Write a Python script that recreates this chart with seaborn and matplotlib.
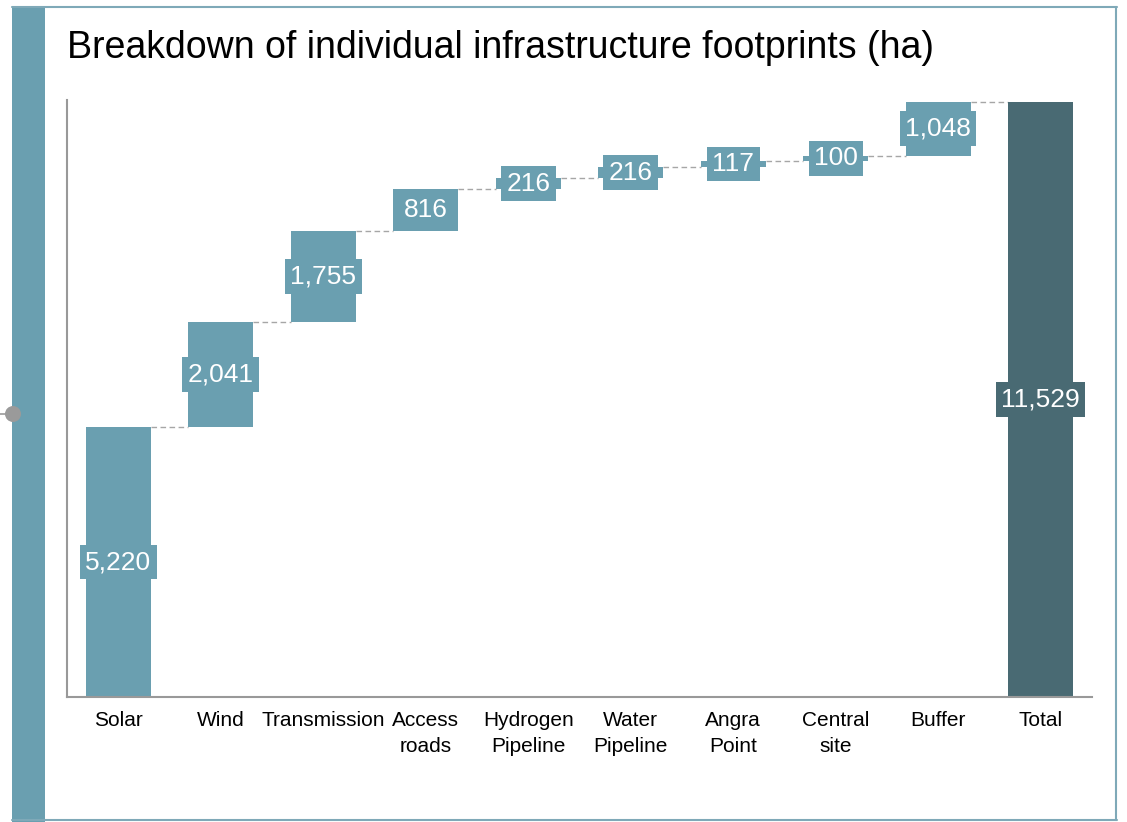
import matplotlib
matplotlib.use("Agg")
import matplotlib.pyplot as plt
from matplotlib.patches import Rectangle, Ellipse
from matplotlib.lines import Line2D
import numpy as np
import pandas as pd
import seaborn as sns

categories = ["Solar", "Wind", "Transmission", "Access\nroads", "Hydrogen\nPipeline",
              "Water\nPipeline", "Angra\nPoint", "Central\nsite", "Buffer", "Total"]
increments = [5220, 2041, 1755, 816, 216, 216, 117, 100, 1048]
total_value = 11529
value_labels = ["5,220", "2,041", "1,755", "816", "216", "216", "117", "100", "1,048", "11,529"]

TEAL = "#6A9FB0"
DARK = "#496A73"
GRID = "#A6A6A6"

heights = increments + [total_value]
bottoms = list(np.concatenate([[0], np.cumsum(increments)[:-1]])) + [0]
df = pd.DataFrame({"category": categories, "height": heights})

sns.set_theme(style="white")
plt.rcParams["font.family"] = ["Liberation Sans", "DejaVu Sans"]

fig = plt.figure(figsize=(11.27, 8.22), dpi=100)
ax = fig.add_axes([67/1127, 1 - 697/822, (1092 - 67)/1127, (697 - 100)/822])

W = 0.63
sns.barplot(data=df, x="category", y="height", order=categories, color=TEAL,
            saturation=1, errorbar=None, width=W, bottom=bottoms, ax=ax,
            linewidth=0, zorder=2)
for i, p in enumerate(ax.patches):
    p.set_facecolor(DARK if i == len(categories) - 1 else TEAL)
    p.set_edgecolor("none")

# connectors
tops = [b + h for b, h in zip(bottoms, heights)]
for i in range(len(categories) - 1):
    ax.plot([i + W/2, i + 1 - W/2], [tops[i], tops[i]], ls=(0, (4, 2.5)),
            color=GRID, lw=1, zorder=1)

# labels
for i, (b, h, lab) in enumerate(zip(bottoms, heights, value_labels)):
    col = DARK if i == len(categories) - 1 else TEAL
    ax.text(i, b + h/2, lab, ha="center", va="center", color="white", fontsize=19,
            zorder=4,
            bbox=dict(boxstyle="square,pad=0.2", facecolor=col, edgecolor="none"))

ax.set_xlim(-0.5, 9.5)
ax.set_ylim(0, 11560)
ax.set_xlabel("")
ax.set_ylabel("")
ax.set_yticks([])
ax.tick_params(axis="x", length=0, pad=10, labelsize=15, colors="black")
for lbl in ax.get_xticklabels():
    lbl.set_linespacing(1.5)
for s in ["top", "right"]:
    ax.spines[s].set_visible(False)
for s in ["left", "bottom"]:
    ax.spines[s].set_color("#999999")
    ax.spines[s].set_linewidth(1.5)

# slide decorations
fig.patches.append(Rectangle((12/1127, 0), 33/1127, 1 - 6/822, transform=fig.transFigure,
                             facecolor=TEAL, edgecolor="none", zorder=0))
frame_col = "#7FA9B8"
fig.lines.append(Line2D([12/1127, 1117/1127], [1 - 7/822, 1 - 7/822],
                        transform=fig.transFigure, color=frame_col, lw=1.5))
fig.lines.append(Line2D([1116/1127, 1116/1127], [1 - 7/822, 1 - 820/822],
                        transform=fig.transFigure, color=frame_col, lw=1.5))
fig.lines.append(Line2D([12/1127, 1117/1127], [1 - 820/822, 1 - 820/822],
                        transform=fig.transFigure, color=frame_col, lw=1.5))
fig.lines.append(Line2D([0, 13/1127], [1 - 414/822, 1 - 414/822],
                        transform=fig.transFigure, color="#999999", lw=1.2))
fig.patches.append(Ellipse((13/1127, 1 - 414/822), 16/1127, 16/822, transform=fig.transFigure,
                           facecolor="#9A9A9A", edgecolor="none", zorder=3))

fig.text(67/1127, 1 - 48/822, "Breakdown of individual infrastructure footprints (ha)",
         fontsize=27, color="black", ha="left", va="center")

fig.savefig("out.png", dpi=100)
